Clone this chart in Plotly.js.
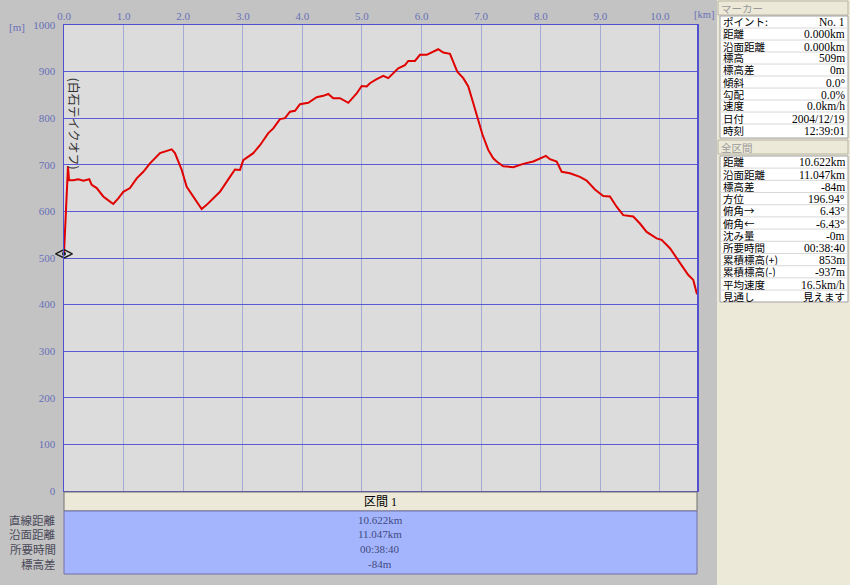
<!DOCTYPE html>
<html><head><meta charset="utf-8">
<script src="https://cdn.plot.ly/plotly-3.0.1.min.js"></script>
<style>html,body{margin:0;padding:0;background:#c3c3c3;}#chart{width:850px;height:585px;}</style>
</head><body><div id="chart"></div>
<script>
// ---- data ----
const distKm = [0.000,0.017,0.034,0.050,0.067,0.084,0.156,0.240,0.324,0.424,0.465,0.549,0.659,0.772,0.827,0.911,0.995,1.107,1.220,1.331,1.443,1.611,1.807,1.862,1.975,2.059,2.169,2.310,2.394,2.505,2.617,2.785,2.869,2.953,3.008,3.176,3.289,3.428,3.512,3.624,3.708,3.792,3.876,3.960,4.099,4.240,4.351,4.435,4.518,4.631,4.770,4.911,4.995,5.079,5.134,5.247,5.357,5.441,5.525,5.609,5.721,5.777,5.889,5.973,6.086,6.169,6.280,6.364,6.477,6.532,6.599,6.700,6.784,6.868,6.951,7.022,7.119,7.203,7.260,7.371,7.539,7.706,7.874,7.987,8.087,8.154,8.267,8.351,8.490,8.658,8.770,8.909,9.049,9.161,9.273,9.384,9.552,9.664,9.777,9.944,10.028,10.168,10.336,10.473,10.559,10.622];
const elevM = [509,560,610,660,697,667,667,669,666,669,657,650,632,621,616,628,642,650,671,685,703,725,733,725,689,653,632,605,614,628,642,674,690,689,710,725,742,768,778,798,800,814,816,830,833,845,848,852,843,843,833,853,869,868,875,884,891,886,896,907,914,923,923,936,936,941,948,941,938,921,900,886,868,832,796,765,732,714,707,697,695,702,707,714,719,712,707,685,682,674,666,647,633,632,610,592,589,574,556,542,539,521,489,464,453,422];
const markerKm = [0.0];
const markerElev = [509];
const xTickVals = [0,1,2,3,4,5,6,7,8,9,10];
const yTickVals = [0,100,200,300,400,500,600,700,800,900,1000];
const startLabel = "(白石テイクオフ)";

const markerHeader = "マーカー";
const markerLabels = ["ポイント:","距離","沿面距離","標高","標高差","傾斜","勾配","速度","日付","時刻"];
const markerValues = ["No. 1","0.000km","0.000km","509m","0m","0.0°","0.0%","0.0km/h","2004/12/19","12:39:01"];
const totalHeader = "全区間";
const totalLabels = ["距離","沿面距離","標高差","方位","俯角→","俯角←","沈み量","所要時間","累積標高(+)","累積標高(-)","平均速度","見通し"];
const totalValues = ["10.622km","11.047km","-84m","196.94°","6.43°","-6.43°","-0m","00:38:40","853m","-937m","16.5km/h","見えます"];
const sectionHeader = "区間 1";
const sectionLabels = ["直線距離","沿面距離","所要時間","標高差"];
const sectionValues = ["10.622km","11.047km","00:38:40","-84m"];

// ---- layout helpers (pixel -> paper) ----
const PL=64, PR=697, PT=25, PB=491, W=PR-PL, H=PB-PT;
const fx = p => (p-PL)/W;
const fy = p => (PB-p)/H;
const FONT = "Liberation Serif, Noto Sans CJK JP, serif";
const JFONT = "Noto Sans CJK JP, sans-serif";

const shapes = [];
const annotations = [];
function rect(x0,y0,x1,y1,fill,line,lw){
  shapes.push({type:'rect',xref:'paper',yref:'paper',x0:fx(x0),x1:fx(x1),y0:fy(y1),y1:fy(y0),
    fillcolor:fill,line:{color:line||fill,width:lw===undefined?1:lw},layer:'above'});
}
function hline(x0,x1,y,color,w){
  shapes.push({type:'line',xref:'paper',yref:'paper',x0:fx(x0),x1:fx(x1),y0:fy(y),y1:fy(y),line:{color:color,width:w||1},layer:'above'});
}
function text(t,x,y,anchor,color,size,fam,h){
  const a = {text:t,xref:'paper',yref:'paper',x:fx(x),y:fy(y),xanchor:anchor,yanchor:'middle',
    showarrow:false,borderpad:0,font:{family:fam||FONT,size:size||12,color:color||'#000'}};
  if(h) a.height = h;
  annotations.push(a);
}

// right panel
rect(717,0,851,586,'#ece9d8','#ece9d8',0);
rect(718,1,848,15,'#ece9d8','#b8b4a4',1);
text(markerHeader,720,8,'left','#9a9a9a',10.5,JFONT,11);
rect(720,16,848,138,'#ffffff','#a0a0a0',1);
markerLabels.forEach((l,i)=>{
  const yc = 22+12*i;
  if(i>0) hline(720,848,yc-6,'#d8d8d8',1);
  text(l,722,yc,'left','#000',10.5,JFONT,11);
  text(markerValues[i],846,yc,'right','#000',11.5,FONT,11);
});
rect(718,140,848,154,'#ece9d8','#b8b4a4',1);
text(totalHeader,720,147,'left','#9a9a9a',10.5,JFONT,11);
rect(720,156,848,302,'#ffffff','#a0a0a0',1);
totalLabels.forEach((l,i)=>{
  const yc = 162+12.2*i;
  if(i>0) hline(720,848,yc-6.1,'#d8d8d8',1);
  text(l,722,yc,'left','#000',10.5,JFONT,11);
  text(totalValues[i],846,yc,'right','#000',totalValues[i]==='見えます'?10.5:11.5,totalValues[i]==='見えます'?JFONT:FONT,11);
});

// bottom section table
rect(64,492,697,511,'#ece9d8','#707070',1);
text(sectionHeader,380,502,'center','#000',12,FONT);
rect(64,511,697,574,'#a5b5fd','#7070a8',1);
sectionLabels.forEach((l,i)=>{
  const yc = 519+14.7*i;
  text(l,57,yc,'right','#4a4a5a',11.5,JFONT,13);
  text(sectionValues[i],380,yc,'center','#404a80',11,FONT,13);
});

// axis unit labels
text('[m]',8,27,'left','#6870b8',11,FONT);
text('[km]',715,14,'right','#6870b8',10.5,FONT);

// start annotation (vertical)
annotations.push({text:startLabel,xref:'x',yref:'y',x:0.17,y:788,textangle:90,showarrow:false,
  font:{family:JFONT,size:12,color:'#303030'}});

const traces = [
  {x:distKm,y:elevM,type:'scatter',mode:'lines',line:{color:'#e00000',width:2},hoverinfo:'skip',showlegend:false,cliponaxis:false},
  {x:markerKm,y:markerElev,type:'scatter',mode:'markers',marker:{symbol:'diamond-wide-open',size:12,color:'#202020',line:{width:1.5,color:'#202020'}},showlegend:false,cliponaxis:false},
  {x:markerKm,y:markerElev,type:'scatter',mode:'markers',marker:{symbol:'circle',size:4,color:'#202020'},showlegend:false,cliponaxis:false}
];

const layout = {
  width:850,height:585,
  paper_bgcolor:'#c3c3c3',plot_bgcolor:'#dcdcdc',
  margin:{l:PL,r:850-PR,t:PT,b:585-PB,pad:0},
  showlegend:false,
  xaxis:{range:[0,10.622],side:'top',tickvals:xTickVals,tickformat:'.1f',
    gridcolor:'#a4aad4',gridwidth:1,zeroline:false,showline:true,linecolor:'#5050d0',linewidth:1,mirror:true,
    ticks:'',tickfont:{family:FONT,size:11,color:'#6870b8'},fixedrange:true},
  yaxis:{range:[0,1000],tickvals:yTickVals,
    gridcolor:'#5a5ad4',gridwidth:1,zeroline:false,showline:true,linecolor:'#5050d0',linewidth:1.5,mirror:true,
    ticks:'',ticklabelstandoff:5,tickfont:{family:FONT,size:11,color:'#6870b8'},fixedrange:true},
  shapes:shapes,annotations:annotations
};
Plotly.newPlot('chart',traces,layout,{staticPlot:true,displayModeBar:false});
</script>
</body></html>
